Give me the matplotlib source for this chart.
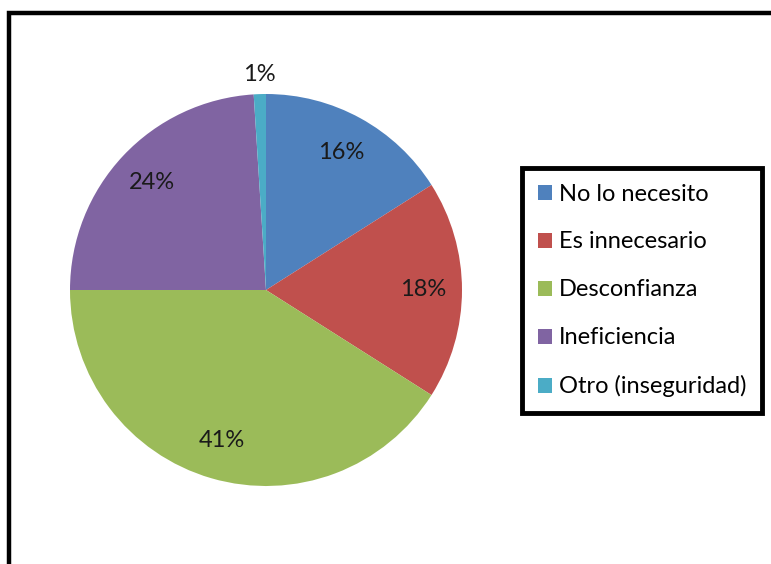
import numpy as np
import matplotlib.pyplot as plt
from matplotlib.patches import Patch, Rectangle

labels = ["No lo necesito", "Es innecesario", "Desconfianza", "Ineficiencia", "Otro (inseguridad)"]
values = [16, 18, 41, 24, 1]
colors = ["#4F81BD", "#C0504D", "#9BBB59", "#8064A2", "#4BACC6"]

plt.rcParams['font.family'] = ['Lato', 'DejaVu Sans']

W, H = 771, 564
fig = plt.figure(figsize=(W/100, H/100), dpi=100)

# outer frame (runs off the right and bottom edges)
fig.patches.append(Rectangle((8.5/W, -0.2), 1.2, 1 - 13.5/H + 0.2, transform=fig.transFigure,
                             fill=False, edgecolor='black', linewidth=3.2, zorder=0))

cx, cy, r = 266, 290, 196
ax = fig.add_axes([(cx - r)/W, (H - cy - r)/H, 2*r/W, 2*r/H])
wedges, _ = ax.pie(values, colors=colors, startangle=90, counterclock=False, radius=1,
                   wedgeprops=dict(linewidth=0))
ax.set_xlim(-1, 1)
ax.set_ylim(-1, 1)
ax.set_aspect('equal')
ax.axis('off')

total = sum(values)
for w, v in zip(wedges, values):
    mid = np.deg2rad((w.theta1 + w.theta2) / 2)
    d = 1.1 if v / total < 0.05 else 0.8
    ax.text(d*np.cos(mid), d*np.sin(mid), "%d%%" % round(100*v/total),
            ha='center', va='center', fontsize=17, color='#1a1a1a', clip_on=False)

handles = [Patch(facecolor=c, edgecolor='none') for c in colors]
leg = fig.legend(handles, labels, loc='upper left', bbox_to_anchor=(522/W, 1 - 168/H),
                 fontsize=17, frameon=True, fancybox=False, framealpha=1, borderaxespad=0,
                 handlelength=0.6, handleheight=0.6, handletextpad=0.3,
                 labelspacing=1.14, borderpad=0.66)
leg.get_frame().set_edgecolor('black')
leg.get_frame().set_linewidth(3.5)

fig.savefig("out.png", dpi=100)
